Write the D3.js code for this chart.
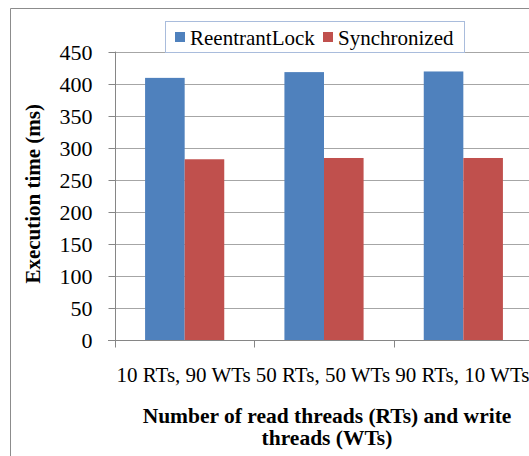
<!DOCTYPE html>
<html>
<head>
<meta charset="utf-8">
<script src="https://cdn.jsdelivr.net/npm/d3@7"></script>
<style>
  html, body { margin: 0; padding: 0; background: #fff; }
  svg { display: block; }
</style>
</head>
<body>
<svg id="chart" width="529" height="456"></svg>
<script>
// Thread mixes and measured execution times (ms)
const categories = ["10 RTs, 90 WTs", "50 RTs, 50 WTs", "90 RTs, 10 WTs"];
const seriesNames = ["ReentrantLock", "Synchronized"];
const reentrantLock = [409, 418, 419];
const synchronizedTimes = [282, 284, 284];
const yTicks = [0, 50, 100, 150, 200, 250, 300, 350, 400, 450];
const colors = ["#4f81bd", "#c0504d"];

const seriesValues = [reentrantLock, synchronizedTimes];
const rows = categories.map((c, i) => ({
  category: c,
  values: seriesNames.map((s, j) => ({ series: s, value: seriesValues[j][i], color: colors[j] }))
}));

const svg = d3.select("#chart");
const serif = "Liberation Serif";

// Outer chart frame
svg.append("path")
  .attr("d", "M10.5,456 L10.5,8.5 L529,8.5")
  .attr("fill", "none")
  .attr("stroke", "#8c8c8c")
  .attr("stroke-width", 1);

const plot = { left: 115, right: 533, top: 51.6, bottom: 340 };

const y = d3.scaleLinear().domain([0, 450]).range([plot.bottom, plot.top]);
const x0 = d3.scaleBand().domain(categories).range([plot.left, plot.right]).paddingInner(0).paddingOuter(0);
const x1 = d3.scaleBand().domain(seriesNames).range([0, x0.bandwidth()]).paddingInner(0).paddingOuter(0.76);

// Horizontal gridlines
svg.append("g")
  .selectAll("line")
  .data(yTicks.filter(t => t > 0))
  .join("line")
  .attr("x1", plot.left).attr("x2", 529)
  .attr("y1", d => Math.round(y(d)) + 0.5).attr("y2", d => Math.round(y(d)) + 0.5)
  .attr("stroke", "#a6a6a6")
  .attr("stroke-width", 1);

// Y axis
const yAxis = svg.append("g")
  .attr("transform", `translate(${plot.left + 0.5},0)`)
  .call(d3.axisLeft(y).tickValues(yTicks).tickSize(7).tickPadding(16).tickFormat(d3.format("d")));
yAxis.attr("font-family", null).attr("font-size", null);
yAxis.select(".domain").attr("stroke", "#868686").attr("d", `M0,${plot.bottom} V${plot.top}`);
yAxis.selectAll(".tick line").attr("stroke", "#868686");
yAxis.selectAll(".tick").attr("transform", d => `translate(0,${Math.round(y(d)) + 0.5})`);
yAxis.selectAll("text")
  .style("font-family", serif)
  .style("font-size", "22px")
  .attr("fill", "#000")
  .attr("dy", "0.34em");

// X axis
const xAxis = svg.append("g")
  .attr("transform", `translate(0,${Math.round(plot.bottom) + 0.5})`);
xAxis.append("line")
  .attr("x1", plot.left - 7).attr("x2", 529)
  .attr("stroke", "#868686");
xAxis.selectAll(".xtick")
  .data(categories)
  .join("line")
  .attr("class", "xtick")
  .attr("x1", d => Math.round(x0(d)) + 0.5).attr("x2", d => Math.round(x0(d)) + 0.5)
  .attr("y1", 0).attr("y2", 7)
  .attr("stroke", "#868686");
xAxis.selectAll(".xlabel")
  .data(categories)
  .join("text")
  .attr("class", "xlabel")
  .attr("x", d => x0(d) + x0.bandwidth() / 2 - 1)
  .attr("y", 41)
  .attr("text-anchor", "middle")
  .style("font-family", serif)
  .style("font-size", "21px")
  .attr("fill", "#000")
  .text(d => d);

// Bars
svg.append("g")
  .selectAll("g")
  .data(rows)
  .join("g")
  .attr("transform", d => `translate(${x0(d.category)},0)`)
  .selectAll("rect")
  .data(d => d.values)
  .join("rect")
  .attr("x", d => x1(d.series))
  .attr("width", x1.bandwidth())
  .attr("y", d => y(d.value))
  .attr("height", d => plot.bottom - y(d.value))
  .attr("fill", d => d.color);

// Axis titles
svg.append("text")
  .attr("transform", `translate(40,${(plot.top + plot.bottom) / 2 - 2}) rotate(-90)`)
  .attr("text-anchor", "middle")
  .style("font-family", serif)
  .style("font-weight", "bold")
  .style("font-size", "21px")
  .attr("fill", "#000")
  .text("Execution time (ms)");

const xTitle = svg.append("text")
  .attr("text-anchor", "middle")
  .style("font-family", serif)
  .style("font-weight", "bold")
  .style("font-size", "21.5px")
  .attr("fill", "#000");
xTitle.append("tspan").attr("x", 327).attr("y", 423).text("Number of read threads (RTs) and write");
xTitle.append("tspan").attr("x", 327).attr("y", 445).text("threads (WTs)");

// Legend
const legend = svg.append("g");
legend.append("rect")
  .attr("x", 165.5).attr("y", 21.5)
  .attr("width", 299).attr("height", 31)
  .attr("fill", "#fff")
  .attr("stroke", "#a9bcdc");
const legendX = [175, 323];
const items = legend.selectAll(".item")
  .data(seriesNames)
  .join("g")
  .attr("class", "item")
  .attr("transform", (d, i) => `translate(${legendX[i]},0)`);
items.append("rect")
  .attr("x", 0).attr("y", 32)
  .attr("width", 10).attr("height", 10)
  .attr("fill", (d, i) => colors[i]);
items.append("text")
  .attr("x", 15).attr("y", 45)
  .style("font-family", serif)
  .style("font-size", "21px")
  .attr("fill", "#000")
  .text(d => d);
</script>
</body>
</html>
